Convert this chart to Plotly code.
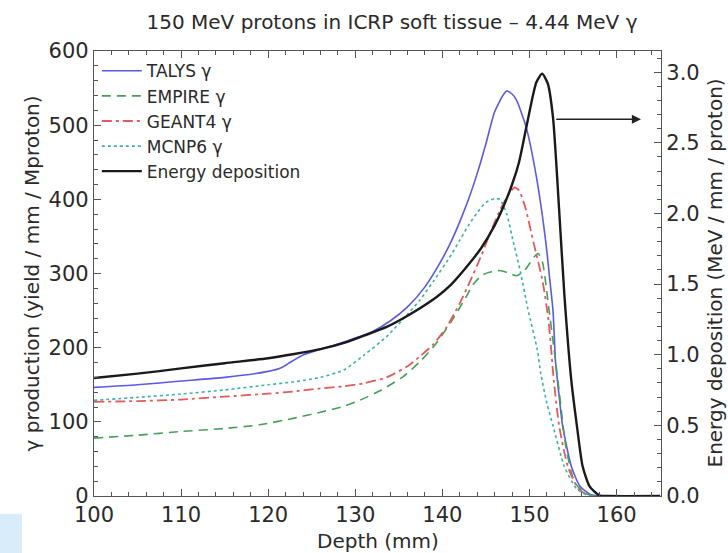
import plotly.graph_objects as go

# ---------------- data ----------------
talys_x = [100, 105, 110, 115, 120, 121.5, 122.5, 124, 126, 128, 130, 132, 134, 136, 138,
           140, 141, 142, 143, 144, 145, 146, 147, 147.4, 148, 148.5, 149.6, 150.8,
           151.9, 152.3, 152.7, 153.0, 153.4, 153.8, 154.8, 155.8, 157, 158, 165]
talys_y = [146.5, 150, 155, 160, 168, 173, 180, 190, 198, 205, 213, 222, 236, 255, 282,
           320, 343, 370, 400, 435, 475, 518, 541, 546, 542, 534, 498, 430,
           340, 295, 250, 180, 135, 95, 40, 13, 2, 0, 0]

empire_x = [100, 105, 110, 115, 119, 123, 126, 128.7, 130.5, 133, 135.5, 137.5, 139.3, 141,
            142.7, 143.5, 144.6, 145.5, 146.6, 147.5, 148.5, 149.5, 150.5, 151, 151.5,
            152.2, 152.8, 153.4, 154.2, 155.2, 156.5, 157.5, 165]
empire_y = [78, 82, 87, 91, 96, 105, 113, 121, 129, 143, 161, 182, 206, 235,
            268, 285, 298, 302, 304, 301, 297, 305, 322, 327, 315,
            255, 200, 142, 65, 18, 3, 0, 0]

geant4_x = [100, 105, 110, 115, 120, 123, 126, 128.7, 131, 133.6, 136, 137.4, 139, 140.5,
            142, 143.2, 144.5, 145.5, 146.6, 147.5, 148.3, 148.8, 149.5, 150.5, 151.5,
            152.2, 152.8, 153.4, 154.4, 155.6, 157, 165]
geant4_y = [127, 128, 130, 134, 138, 141, 145, 148, 152, 160, 175, 188, 205, 228,
            260, 290, 325, 355, 385, 405, 416, 412, 390, 340, 290,
            235, 155, 95, 40, 10, 0, 0]

mcnp6_x = [100, 105, 110, 115, 120, 123, 126, 128.7, 131, 133.6, 136, 137.4, 139, 141,
           142, 143, 144, 145, 146, 146.6, 147.4, 148, 149, 149.8, 150.9, 151.3, 152,
           152.7, 154, 155.4, 156.9, 165]
mcnp6_y = [129, 133, 137.5, 143, 150, 154, 160, 170, 190, 215, 245, 264, 290, 325,
           345, 365, 382, 396, 401, 400, 380, 350, 300, 253, 197, 165, 125,
           95, 40, 10, 0, 0]

# energy deposition in MeV / mm / proton (right axis)
edep_x = [100, 105, 110, 115, 120, 123, 126, 129, 131, 133.6, 136, 139.3, 141, 143, 144.5,
          146, 147, 148, 148.8, 149.6, 150.3, 150.8, 151.45, 152.1, 152.7, 153.4, 154.0,
          154.8, 155.5, 156.1, 156.9, 158, 159, 165]
edep_y = [0.835, 0.866, 0.903, 0.94, 0.975, 1.005, 1.04, 1.09, 1.135, 1.197, 1.276,
          1.407, 1.496, 1.638, 1.759, 1.916, 2.048, 2.205, 2.363, 2.599, 2.809, 2.93,
          2.99, 2.92, 2.68, 2.03, 1.43, 0.82, 0.47, 0.21, 0.068, 0.005, 0.0, 0.0]

series_names = ["TALYS γ", "EMPIRE γ", "GEANT4 γ", "MCNP6 γ", "Energy deposition"]
x_ticks = [100, 110, 120, 130, 140, 150, 160]
arrow_start = (152.9, 508)
arrow_end = (162.8, 508)

FONT = "DejaVu Sans"
TXT = "#2a2a2a"

fig = go.Figure()
line_common = dict(shape="spline", smoothing=0.6)
fig.add_trace(go.Scatter(x=talys_x, y=talys_y, mode="lines", name=series_names[0],
                         line=dict(color="#5a5ae4", width=1.6, **line_common)))
fig.add_trace(go.Scatter(x=empire_x, y=empire_y, mode="lines", name=series_names[1],
                         line=dict(color="#46a05a", width=1.6, dash="9px,6px", **line_common)))
fig.add_trace(go.Scatter(x=geant4_x, y=geant4_y, mode="lines", name=series_names[2],
                         line=dict(color="#e25a5a", width=1.8, dash="10px,4px,3px,4px", **line_common)))
fig.add_trace(go.Scatter(x=mcnp6_x, y=mcnp6_y, mode="lines", name=series_names[3],
                         line=dict(color="#38b4a6", width=1.6, dash="3px,3px", **line_common)))
fig.add_trace(go.Scatter(x=edep_x, y=edep_y, mode="lines", name=series_names[4], yaxis="y2",
                         line=dict(color="#1a1a1a", width=2.4, **line_common)))

axis_font = dict(family=FONT, size=21, color=TXT)

fig.update_layout(
    width=728, height=553,
    margin=dict(l=94, r=67, t=51, b=57),
    paper_bgcolor="white", plot_bgcolor="white",
    font=dict(family=FONT, color=TXT),
    title=dict(text="150 MeV protons in ICRP soft tissue – 4.44 MeV γ",
               x=392/728, xref="container", xanchor="center",
               y=1 - 22/553, yref="container", yanchor="middle",
               font=dict(family=FONT, size=20, color=TXT)),
    xaxis=dict(range=[100, 165.1], tickvals=x_ticks, ticks="inside", ticklen=7,
               tickcolor="#555", showline=True, linecolor="#555", linewidth=1.2,
               mirror="ticks", showgrid=False, zeroline=False, tickfont=axis_font,
               minor=dict(dtick=2, ticks="inside", ticklen=4, tickcolor="#555")),
    yaxis=dict(range=[0, 600], dtick=100, ticks="inside", ticklen=7, tickcolor="#555",
               showline=True, linecolor="#555", linewidth=1.2, showgrid=False,
               zeroline=False, tickfont=axis_font,
               minor=dict(dtick=20, ticks="inside", ticklen=4, tickcolor="#555")),
    yaxis2=dict(range=[0, 3.15], dtick=0.5, tickformat=".1f", overlaying="y", side="right",
                ticks="inside", ticklen=7, tickcolor="#555", showline=True,
                linecolor="#555", linewidth=1.2, showgrid=False, zeroline=False,
                tickfont=axis_font,
                minor=dict(dtick=0.1, ticks="inside", ticklen=4, tickcolor="#555")),
    legend=dict(x=0.005, y=0.995, xanchor="left", yanchor="top",
                bgcolor="rgba(0,0,0,0)", font=dict(family=FONT, size=17, color=TXT),
                tracegroupgap=0, itemwidth=40),
    showlegend=True,
)

# axis titles
fig.add_annotation(text="Depth (mm)", xref="paper", yref="paper", x=0.5, y=0,
                   yshift=-45, showarrow=False, yanchor="middle",
                   font=dict(family=FONT, size=20, color=TXT))
fig.add_annotation(text="γ production (yield / mm / Mproton)", xref="paper", yref="paper",
                   x=0, y=0.5, xshift=-63, textangle=-90, showarrow=False,
                   xanchor="center", yanchor="middle",
                   font=dict(family=FONT, size=20, color=TXT))
fig.add_annotation(text="Energy deposition (MeV / mm / proton)", xref="paper", yref="paper",
                   x=1, y=0.5, xshift=53, textangle=-90, showarrow=False,
                   xanchor="center", yanchor="middle",
                   font=dict(family=FONT, size=20, color=TXT))
# arrow pointing to right axis
fig.add_annotation(x=arrow_end[0], y=arrow_end[1], ax=arrow_start[0], ay=arrow_start[1],
                   xref="x", yref="y", axref="x", ayref="y", text="", showarrow=True,
                   arrowhead=2, arrowsize=1.3, arrowwidth=1.4, arrowcolor="#222")

# faint blue corner artefact at bottom-left
fig.add_shape(type="rect", xref="paper", yref="paper", x0=-94/567, x1=-72/567,
              y0=-57/445, y1=-0.04, line=dict(width=0), fillcolor="rgba(190,225,245,0.6)",
              layer="below")

fig.write_html("out.html")
